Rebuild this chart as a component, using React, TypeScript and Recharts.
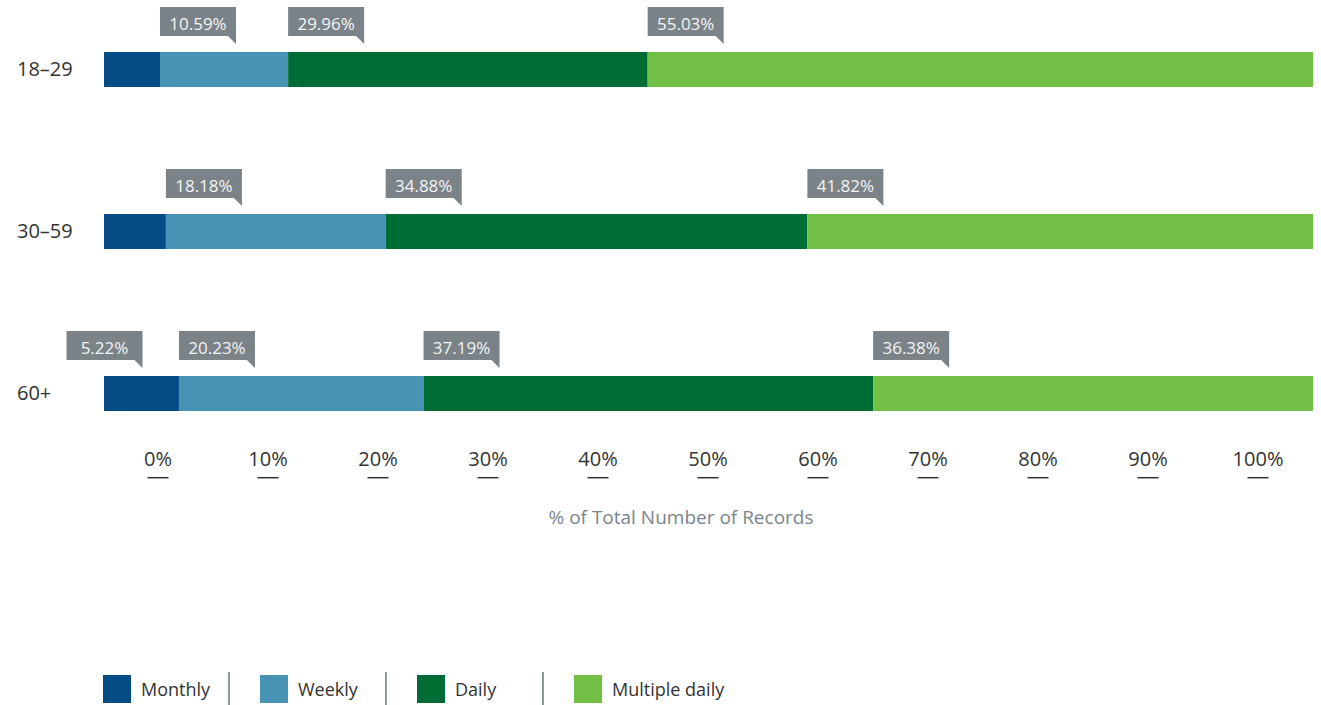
import { BarChart, Bar, XAxis, YAxis, LabelList, Legend } from "recharts";

const groups = ["18–29", "30–59", "60+"];
const monthly = [4.63, 5.12, 6.2];
const weekly = [10.6, 18.18, 20.23];
const daily = [29.74, 34.88, 37.19];
const multipleDaily = [55.03, 41.82, 36.38];

// printed callout texts (monthly only labelled on 60+)
const monthlyLabels = [null, null, "5.22%"];
const weeklyLabels = ["10.59%", "18.18%", "20.23%"];
const dailyLabels = ["29.96%", "34.88%", "37.19%"];
const multipleLabels = ["55.03%", "41.82%", "36.38%"];

const pctTicks = [0, 10, 20, 30, 40, 50, 60, 70, 80, 90, 100];

const series = [
    { key: "monthly", name: "Monthly", color: "#054b85" },
    { key: "weekly", name: "Weekly", color: "#4892b3" },
    { key: "daily", name: "Daily", color: "#006c35" },
    { key: "multiple", name: "Multiple daily", color: "#72bf45" }
];

const data = groups.map((g, i) => ({
    group: g,
    monthly: monthly[i],
    weekly: weekly[i],
    daily: daily[i],
    multiple: multipleDaily[i],
    monthlyLabel: monthlyLabels[i],
    weeklyLabel: weeklyLabels[i],
    dailyLabel: dailyLabels[i],
    multipleLabel: multipleLabels[i]
}));

const SHIFT = 35; // chart svg sits 35px above the page top
const W = 1321;
const H = 740;
const BOX_W = 76;
const BOX_H = 29;
const FONT = '"Open Sans", "DejaVu Sans", sans-serif';

const makeCallout = (align: "start" | "mid") => (props: any) => {
    const { value } = props;
    if (!value) return null;
    const x = Number(props.x);
    const y = Number(props.y);
    const width = Number(props.width);
    const left = align === "start" ? x : x + width / 2 - BOX_W + 1;
    const top = y - 45;
    const right = left + BOX_W;
    const bottom = top + BOX_H;
    return (
        <g>
            <path
                d={`M${left},${top} H${right} V${bottom + 8} L${right - 8},${bottom} H${left} Z`}
                fill="#7b8389"
            />
            <text
                x={left + BOX_W / 2}
                y={top + 22.5}
                textAnchor="middle"
                fontSize={17}
                fill="#f4f4f4"
                fontFamily={FONT}
            >
                {value}
            </text>
        </g>
    );
};

const GroupTick = (props: any) => {
    const { y, payload } = props;
    return (
        <text x={17} y={y + 7} fontSize={20} fill="#333" fontFamily={FONT}>
            {payload.value}
        </text>
    );
};

const PctTick = (props: any) => {
    const { x, payload } = props;
    return (
        <g>
            <text x={x} y={466 + SHIFT} textAnchor="middle" fontSize={20} fill="#333" fontFamily={FONT}>
                {`${payload.value}%`}
            </text>
            <line x1={x - 10.5} x2={x + 10.5} y1={477.7 + SHIFT} y2={477.7 + SHIFT} stroke="#333" strokeWidth={1.5} />
        </g>
    );
};

const renderTitle = () => (
    <text x={681} y={524.3 + SHIFT} textAnchor="middle" fontSize={19} fill="#7b858b" fontFamily={FONT}>
        % of Total Number of Records
    </text>
);

const renderLegend = () => (
    <div style={{ display: "flex", fontFamily: FONT }}>
        {series.map((s, i) => (
            <div
                key={s.key}
                style={{
                    position: "relative",
                    flex: "none",
                    width: i < series.length - 1 ? 157 : "auto",
                    display: "flex",
                    alignItems: "center"
                }}
            >
                <span style={{ display: "inline-block", width: 28, height: 28, background: s.color, marginRight: 10 }} />
                <span style={{ fontSize: 18, color: "#333" }}>{s.name}</span>
                {i < series.length - 1 && (
                    <span
                        style={{
                            position: "absolute",
                            left: 125,
                            top: -3,
                            width: 1.5,
                            height: 33,
                            background: "#8f989d"
                        }}
                    />
                )}
            </div>
        ))}
    </div>
);

export default function App() {
    return (
        <div style={{ position: "absolute", left: 0, top: -SHIFT, width: W, height: H, fontFamily: FONT }}>
            <BarChart
                width={W}
                height={H}
                data={data}
                layout="vertical"
                margin={{ top: 23, right: 8, bottom: 191, left: 14 }}
            >
                <XAxis xAxisId="bars" type="number" domain={[0, 100]} hide />
                <XAxis
                    xAxisId="pct"
                    type="number"
                    domain={[-54 / 11, 1155 / 11]}
                    allowDataOverflow
                    ticks={pctTicks}
                    interval={0}
                    height={40}
                    axisLine={false}
                    tickLine={false}
                    tick={<PctTick />}
                    label={renderTitle}
                />
                <YAxis
                    type="category"
                    dataKey="group"
                    width={90}
                    axisLine={false}
                    tickLine={false}
                    interval={0}
                    tick={<GroupTick />}
                />
                <Bar xAxisId="bars" dataKey="monthly" stackId="a" barSize={35} fill={series[0].color} isAnimationActive={false}>
                    <LabelList dataKey="monthlyLabel" content={makeCallout("mid")} />
                </Bar>
                <Bar xAxisId="bars" dataKey="weekly" stackId="a" barSize={35} fill={series[1].color} isAnimationActive={false}>
                    <LabelList dataKey="weeklyLabel" content={makeCallout("start")} />
                </Bar>
                <Bar xAxisId="bars" dataKey="daily" stackId="a" barSize={35} fill={series[2].color} isAnimationActive={false}>
                    <LabelList dataKey="dailyLabel" content={makeCallout("start")} />
                </Bar>
                <Bar xAxisId="bars" dataKey="multiple" stackId="a" barSize={35} fill={series[3].color} isAnimationActive={false}>
                    <LabelList dataKey="multipleLabel" content={makeCallout("start")} />
                </Bar>
                <Legend
                    content={renderLegend}
                    layout="horizontal"
                    verticalAlign="middle"
                    align="center"
                    wrapperStyle={{ top: 710, left: 103, width: "auto" }}
                />
            </BarChart>
        </div>
    );
}
